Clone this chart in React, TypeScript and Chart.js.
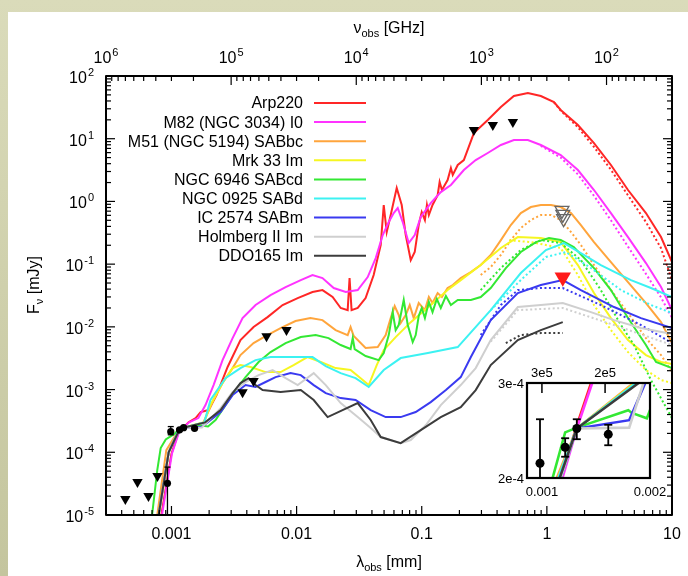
import React, { useEffect, useRef } from 'react';
import { Chart, registerables } from 'chart.js';

Chart.register(...registerables);

// ---------- constants ----------
const C_MM_GHZ = 299.792458; // lambda[mm] = C / nu[GHz]
const LAM_MIN = C_MM_GHZ / 1e6;
const LAM_MAX = 10;
const F_MIN = 1e-5;
const F_MAX = 100;
const INSET_LAM_MIN = 0.000908;
const INSET_LAM_MAX = 0.002;
const INSET_F_MIN = 2e-4;
const INSET_F_MAX = 3e-4;

const FONT = '"Liberation Sans", Arial, Helvetica, sans-serif';

// ---------- data ----------
const SERIES_NAMES = [
  'Arp220',
  'M82 (NGC 3034) I0',
  'M51 (NGC 5194) SABbc',
  'Mrk 33 Im',
  'NGC 6946 SABcd',
  'NGC 0925 SABd',
  'IC 2574 SABm',
  'Holmberg II Im',
  'DDO165 Im',
];
const SERIES_COLORS = ['#ff2626', '#ff33ff', '#ffa53c', '#f6f621', '#33e833', '#3cf2f2', '#3a3af0', '#cfcfcf', '#3c3c3c'];

const ARP220_LAM = [0.00083, 0.001, 0.00113, 0.00125, 0.00137, 0.00156, 0.00171, 0.00198, 0.00229, 0.00281, 0.00356, 0.00453, 0.00586, 0.00773, 0.0102, 0.0134, 0.0161, 0.0194, 0.0225, 0.0256, 0.0265, 0.0275, 0.0308, 0.0356, 0.0413, 0.047, 0.0497, 0.0525, 0.0565, 0.0631, 0.0692, 0.0745, 0.0817, 0.0879, 0.0946, 0.1, 0.106, 0.11, 0.114, 0.122, 0.134, 0.139, 0.145, 0.161, 0.171, 0.177, 0.194, 0.217, 0.261, 0.337, 0.429, 0.545, 0.705, 0.895, 1.14, 1.29, 1.77, 2.38, 3.25, 4.45, 6.19, 8.17, 10];
const ARP220_F = [1e-5, 9.5e-5, 2.0e-4, 2.5e-4, 3.0e-4, 3.51e-4, 4.38e-4, 4.71e-4, 8.17e-4, 2.29e-3, 6.15e-3, 9.93e-3, 0.0143, 0.0223, 0.0288, 0.0359, 0.0386, 0.0299, 0.02, 0.0185, 0.06, 0.0185, 0.02, 0.0288, 0.067, 0.202, 0.877, 0.325, 0.607, 1.64, 0.877, 0.291, 0.116, 0.156, 0.42, 0.678, 0.505, 0.877, 0.607, 0.877, 1.26, 2.04, 1.52, 2.19, 3.41, 2.64, 3.81, 4.57, 12.3, 19.9, 32.0, 48.0, 53.6, 48.0, 38.5, 28.7, 16.5, 8.53, 3.81, 1.52, 0.653, 0.27, 0.108];
const ARP220_DOT_LAM = [1.14, 1.29, 1.77, 2.38, 3.25, 4.45, 6.19, 8.17, 10];
const ARP220_DOT_F = [38.0, 28.0, 15.2, 7.4, 3.2, 1.25, 0.47, 0.18, 0.0557];

const M82_LAM = [0.00084, 0.00101, 0.00114, 0.00125, 0.00138, 0.00164, 0.00187, 0.00217, 0.00256, 0.00308, 0.0037, 0.0047, 0.00619, 0.00817, 0.0108, 0.0134, 0.0161, 0.0198, 0.0247, 0.0308, 0.037, 0.0429, 0.0488, 0.0545, 0.0597, 0.0643, 0.0705, 0.0787, 0.0879, 0.0982, 0.118, 0.142, 0.171, 0.217, 0.27, 0.337, 0.429, 0.545, 0.705, 0.895, 1.29, 1.77, 2.38, 3.25, 4.45, 6.19, 8.17, 10];
const M82_F = [1e-5, 9.6e-5, 2.0e-4, 2.47e-4, 3.0e-4, 3.51e-4, 5.66e-4, 1.18e-3, 2.95e-3, 6.62e-3, 0.0138, 0.0223, 0.0321, 0.0431, 0.0557, 0.067, 0.06, 0.0416, 0.0359, 0.0386, 0.0622, 0.125, 0.291, 0.469, 0.653, 0.785, 0.469, 0.217, 0.291, 0.564, 0.942, 1.41, 1.83, 3.17, 4.57, 5.92, 7.94, 9.53, 9.53, 7.94, 5.5, 3.17, 1.52, 0.653, 0.27, 0.104, 0.0431, 0.0185];
const M82_DOT_LAM = [0.895, 1.29, 1.77, 2.38, 3.25, 4.45, 6.19, 8.17, 10];
const M82_DOT_F = [7.7, 5.0, 2.7, 1.23, 0.5, 0.19, 0.07, 0.0295, 0.0138];

const M51_LAM = [0.00077, 0.00091, 0.0011, 0.00125, 0.0018, 0.00217, 0.00256, 0.00308, 0.00356, 0.00453, 0.00565, 0.00745, 0.0098, 0.0129, 0.0161, 0.0205, 0.0256, 0.027, 0.0286, 0.0356, 0.0445, 0.0515, 0.0565, 0.0608, 0.0655, 0.0679, 0.0745, 0.0802, 0.0863, 0.0946, 0.106, 0.114, 0.122, 0.134, 0.145, 0.161, 0.177, 0.205, 0.247, 0.296, 0.356, 0.429, 0.515, 0.619, 0.745, 0.895, 1.08, 1.29, 1.56, 1.87, 2.38, 3.25, 4.45, 6.19, 8.17, 10];
const M51_F = [1e-5, 1.08e-4, 2.0e-4, 2.47e-4, 3.0e-4, 6.81e-4, 1.27e-3, 2.2e-3, 3.55e-3, 5.52e-3, 7.13e-3, 9.57e-3, 0.0124, 0.0138, 0.0128, 0.00889, 0.0074, 0.00993, 0.00713, 0.00459, 0.00476, 0.0074, 0.0138, 0.0215, 0.0154, 0.0115, 0.0154, 0.0223, 0.0138, 0.024, 0.0185, 0.0299, 0.024, 0.0346, 0.0299, 0.0416, 0.0464, 0.06, 0.0748, 0.0968, 0.14, 0.242, 0.42, 0.653, 0.814, 0.877, 0.877, 0.814, 0.653, 0.42, 0.225, 0.108, 0.0518, 0.024, 0.0119, 0.00552];
const M51_DOT_LAM = [0.296, 0.356, 0.429, 0.515, 0.619, 0.745, 0.895, 1.08, 1.29, 1.56, 1.87, 2.38, 3.25, 4.45, 6.19, 8.17, 10];
const M51_DOT_F = [0.067, 0.0899, 0.14, 0.242, 0.377, 0.505, 0.607, 0.607, 0.505, 0.325, 0.202, 0.0968, 0.0386, 0.0166, 0.00662, 0.00355, 0.0019];

const MRK33_LAM = [0.00079, 0.00095, 0.00111, 0.00125, 0.00182, 0.00205, 0.00256, 0.00308, 0.00356, 0.00429, 0.00565, 0.00745, 0.00946, 0.0122, 0.0156, 0.0205, 0.027, 0.0325, 0.0377, 0.0437, 0.0497, 0.0619, 0.0817, 0.118, 0.161, 0.205, 0.296, 0.429, 0.586, 0.895, 1.29, 1.77, 2.38, 3.25, 4.45, 6.19, 8.17, 10];
const MRK33_F = [1e-5, 1.0e-4, 2.0e-4, 2.47e-4, 3.0e-4, 5.66e-4, 1.27e-3, 2.2e-3, 2.46e-3, 2.29e-3, 1.9e-3, 1.9e-3, 2.46e-3, 3.3e-3, 2.75e-3, 2.2e-3, 2.05e-3, 1.52e-3, 1.18e-3, 2.46e-3, 4.27e-3, 6.87e-3, 0.0119, 0.0223, 0.0386, 0.0557, 0.0968, 0.181, 0.27, 0.261, 0.225, 0.0968, 0.0346, 0.0138, 0.00615, 0.00355, 0.00275, 0.00256];
const MRK33_DOT_LAM = [0.5, 0.745, 1.29, 1.77, 2.38, 3.25, 4.45, 6.19, 8.17, 10];
const MRK33_DOT_F = [0.24, 0.225, 0.181, 0.067, 0.0223, 0.00889, 0.00396, 0.00205, 0.00142, 0.00127];

const N6946_LAM = [0.0007, 0.00077, 0.00082, 0.0009, 0.00107, 0.00116, 0.00125, 0.00174, 0.00178, 0.00196, 0.00225, 0.0027, 0.00325, 0.00391, 0.00497, 0.00619, 0.00817, 0.0108, 0.0142, 0.018, 0.0225, 0.027, 0.0281, 0.0291, 0.0356, 0.0453, 0.0497, 0.0545, 0.0586, 0.0619, 0.0655, 0.0718, 0.0773, 0.0847, 0.0895, 0.0946, 0.1, 0.106, 0.114, 0.122, 0.132, 0.142, 0.156, 0.171, 0.194, 0.247, 0.296, 0.356, 0.47, 0.619, 0.817, 1.04, 1.29, 1.64, 2.38, 3.25, 4.45, 6.19, 7.45, 10];
const N6946_F = [1e-5, 5.2e-5, 1.17e-4, 1.6e-4, 2.0e-4, 2.43e-4, 2.48e-4, 2.67e-4, 2.64e-4, 2.58e-4, 3.27e-4, 5.66e-4, 9.82e-4, 1.58e-3, 2.75e-3, 3.96e-3, 5.52e-3, 6.87e-3, 7.4e-3, 6.62e-3, 5.13e-3, 4.43e-3, 6.62e-3, 4.43e-3, 3.42e-3, 2.95e-3, 3.82e-3, 7.4e-3, 0.0172, 8.89e-3, 0.0107, 0.0268, 0.0107, 5.72e-3, 7.4e-3, 0.0149, 0.02, 0.0138, 0.0249, 0.0172, 0.0278, 0.02, 0.031, 0.0223, 0.0268, 0.0268, 0.0299, 0.0416, 0.0867, 0.156, 0.225, 0.261, 0.242, 0.187, 0.0867, 0.0386, 0.0138, 0.00513, 0.00275, 0.0022];
const N6946_DOT_LAM = [0.296, 0.429, 0.619, 0.895, 1.29, 1.87, 2.7, 3.91, 4.97, 6.79, 10];
const N6946_DOT_F = [0.0386, 0.0867, 0.168, 0.242, 0.217, 0.116, 0.0386, 0.0107, 0.00513, 0.00142, 0.00035];

const N0925_LAM = [0.00079, 0.00095, 0.00111, 0.00125, 0.00183, 0.00205, 0.0027, 0.00356, 0.0047, 0.00619, 0.0108, 0.0134, 0.0171, 0.0225, 0.0296, 0.0377, 0.0497, 0.0679, 0.112, 0.194, 0.356, 0.619, 0.982, 1.37, 1.87, 2.7, 4.7, 6.79, 10];
const N0925_F = [1e-5, 1.0e-4, 2.0e-4, 2.47e-4, 3.0e-4, 6.81e-4, 1.52e-3, 2.2e-3, 2.95e-3, 3.3e-3, 3.3e-3, 3.3e-3, 2.37e-3, 1.83e-3, 1.52e-3, 1.1e-3, 2.05e-3, 3.18e-3, 3.82e-3, 4.76e-3, 0.0185, 0.0721, 0.168, 0.217, 0.15, 0.0968, 0.0557, 0.0416, 0.0299];
const N0925_DOT_LAM = [0.356, 0.619, 0.982, 1.42, 2.25, 3.91, 6.79, 10];
const N0925_DOT_F = [0.0185, 0.0557, 0.13, 0.156, 0.0867, 0.0386, 0.0223, 0.0166];

const IC2574_LAM = [0.00079, 0.00095, 0.0011, 0.00125, 0.00175, 0.00194, 0.00247, 0.00308, 0.00391, 0.0047, 0.00565, 0.00679, 0.00895, 0.0108, 0.0137, 0.0171, 0.0225, 0.0296, 0.0391, 0.0515, 0.0679, 0.0895, 0.118, 0.156, 0.205, 0.247, 0.356, 0.586, 0.895, 1.34, 1.87, 3.44, 5.65, 10];
const IC2574_F = [1e-5, 1.0e-4, 1.9e-4, 2.47e-4, 2.56e-4, 3.0e-4, 4.38e-4, 8.17e-4, 1.18e-3, 1.1e-3, 1.32e-3, 1.58e-3, 1.83e-3, 1.7e-3, 1.18e-3, 8.79e-4, 7.31e-4, 6.81e-4, 4.71e-4, 3.64e-4, 3.64e-4, 4.38e-4, 6.32e-4, 9.82e-4, 1.58e-3, 3.3e-3, 0.0128, 0.0346, 0.0464, 0.0557, 0.0386, 0.0207, 0.0138, 0.00957];
const IC2574_DOT_LAM = [0.296, 0.429, 0.586, 0.895, 1.34, 2.7, 5.65, 10];
const IC2574_DOT_F = [0.0074, 0.0223, 0.0386, 0.0416, 0.0416, 0.0223, 0.0107, 0.00552];

const HOII_LAM = [0.00079, 0.00095, 0.0011, 0.00125, 0.00175, 0.00247, 0.00308, 0.00391, 0.00497, 0.00643, 0.00817, 0.0102, 0.0137, 0.0171, 0.0225, 0.0308, 0.0391, 0.047, 0.0679, 0.0817, 0.108, 0.142, 0.205, 0.27, 0.356, 0.586, 0.895, 1.34, 2.25, 3.44, 5.65, 10];
const HOII_F = [1e-5, 1.0e-4, 1.9e-4, 2.47e-4, 2.48e-4, 5.07e-4, 9.12e-4, 1.32e-3, 1.7e-3, 2.05e-3, 1.52e-3, 1.18e-3, 1.83e-3, 1.18e-3, 6.1e-4, 3.64e-4, 2.43e-4, 1.75e-4, 1.4e-4, 1.57e-4, 2.72e-4, 5.66e-4, 1.18e-3, 2.2e-3, 6.15e-3, 0.0207, 0.0223, 0.024, 0.0172, 0.0128, 0.00957, 0.0077];
const HOII_DOT_LAM = [0.356, 0.586, 1.34, 3.44, 10];
const HOII_DOT_F = [0.0058, 0.0185, 0.02, 0.0107, 0.00513];

const DDO165_LAM = [0.00079, 0.00095, 0.00112, 0.00125, 0.00186, 0.00247, 0.00308, 0.00356, 0.00413, 0.0047, 0.00535, 0.00745, 0.0108, 0.0137, 0.0177, 0.0233, 0.0308, 0.0391, 0.047, 0.0679, 0.0982, 0.142, 0.205, 0.27, 0.356, 0.586, 0.895, 1.34];
const DDO165_F = [1e-5, 1.0e-4, 2.0e-4, 2.47e-4, 3.0e-4, 4.71e-4, 8.79e-4, 1.27e-3, 1.52e-3, 1.18e-3, 9.82e-4, 9.12e-4, 9.82e-4, 6.81e-4, 3.64e-4, 4.71e-4, 6.1e-4, 3.27e-4, 1.75e-4, 1.4e-4, 2.26e-4, 3.64e-4, 5.26e-4, 9.82e-4, 2.46e-3, 6.15e-3, 8.89e-3, 0.0119];
const DDO165_DOT_LAM = [0.47, 0.619, 0.895, 1.34];
const DDO165_DOT_F = [0.00552, 0.0074, 0.00796, 0.00796];

// observations (detections with error bars)
const OBS_LAM = [0.000929, 0.000987, 0.00116, 0.00125, 0.00153];
const OBS_F = [3.2e-5, 2.13e-4, 2.28e-4, 2.47e-4, 2.41e-4];
const OBS_LO = [1e-6, 1.9e-4, 2.19e-4, 2.36e-4, 2.3e-4];
const OBS_HI = [5.8e-5, 2.57e-4, 2.37e-4, 2.57e-4, 2.51e-4];

// upper limits
const LIMIT_LAM = [4.28e-4, 5.35e-4, 6.55e-4, 7.73e-4, 0.0037, 0.00453, 0.00575, 0.0083, 0.261, 0.37, 0.535];
const LIMIT_F = [1.8e-5, 3.35e-5, 2.0e-5, 4.17e-5, 9.1e-4, 1.37e-3, 7.1e-3, 8.9e-3, 13.8, 16.6, 18.5];
const RED_LIMIT_LAM = [1.34];
const RED_LIMIT_F = [0.062];
const OPEN_LIMIT_LAM = [1.32, 1.34, 1.36];
const OPEN_LIMIT_F = [0.72, 0.62, 0.53];

// tick labels
const X_TICK_VALUES = [0.001, 0.01, 0.1, 1, 10];
const X_TICK_LABELS = ['0.001', '0.01', '0.1', '1', '10'];
const Y_EXPONENTS = [-5, -4, -3, -2, -1, 0, 1, 2];
const NU_EXPONENTS = [2, 3, 4, 5, 6];
const INSET_X_TICKS = [0.001, 0.002];
const INSET_X_LABELS = ['0.001', '0.002'];
const INSET_Y_TICKS = [2e-4, 3e-4];
const INSET_Y_LABELS = ['2e-4', '3e-4'];
const INSET_NU_TICKS = [3e5, 2e5];
const INSET_NU_LABELS = ['3e5', '2e5'];

const SERIES = [
  { lam: ARP220_LAM, f: ARP220_F, dlam: ARP220_DOT_LAM, df: ARP220_DOT_F },
  { lam: M82_LAM, f: M82_F, dlam: M82_DOT_LAM, df: M82_DOT_F },
  { lam: M51_LAM, f: M51_F, dlam: M51_DOT_LAM, df: M51_DOT_F },
  { lam: MRK33_LAM, f: MRK33_F, dlam: MRK33_DOT_LAM, df: MRK33_DOT_F },
  { lam: N6946_LAM, f: N6946_F, dlam: N6946_DOT_LAM, df: N6946_DOT_F },
  { lam: N0925_LAM, f: N0925_F, dlam: N0925_DOT_LAM, df: N0925_DOT_F },
  { lam: IC2574_LAM, f: IC2574_F, dlam: IC2574_DOT_LAM, df: IC2574_DOT_F },
  { lam: HOII_LAM, f: HOII_F, dlam: HOII_DOT_LAM, df: HOII_DOT_F },
  { lam: DDO165_LAM, f: DDO165_F, dlam: DDO165_DOT_LAM, df: DDO165_DOT_F },
].map((s, i) => ({ ...s, name: SERIES_NAMES[i], color: SERIES_COLORS[i] }));

// ---------- helpers ----------
const toXY = (xs: number[], ys: number[]) => xs.map((x, i) => ({ x, y: ys[i] }));

function logTickList(min: number, max: number) {
  const out: { v: number; major: boolean }[] = [];
  const e0 = Math.floor(Math.log10(min));
  const e1 = Math.ceil(Math.log10(max));
  for (let e = e0; e <= e1; e++) {
    for (let m = 1; m <= 9; m++) {
      const v = m * Math.pow(10, e);
      if (v >= min * 0.9999 && v <= max * 1.0001) out.push({ v, major: m === 1 });
    }
  }
  return out;
}

function line(ctx: CanvasRenderingContext2D, x1: number, y1: number, x2: number, y2: number) {
  ctx.beginPath();
  ctx.moveTo(x1, y1);
  ctx.lineTo(x2, y2);
  ctx.stroke();
}

function drawPow(ctx: CanvasRenderingContext2D, exp: string, x: number, y: number, align: 'right' | 'center') {
  ctx.font = `16px ${FONT}`;
  const w1 = ctx.measureText('10').width;
  ctx.font = `11px ${FONT}`;
  const w2 = ctx.measureText(exp).width;
  const total = w1 + w2 + 1;
  const x0 = align === 'right' ? x - total : x - total / 2;
  ctx.textAlign = 'left';
  ctx.textBaseline = 'alphabetic';
  ctx.font = `16px ${FONT}`;
  ctx.fillText('10', x0, y + 6);
  ctx.font = `11px ${FONT}`;
  ctx.fillText(exp, x0 + w1 + 1, y - 1);
}

function drawParts(ctx: CanvasRenderingContext2D, parts: [string, number, number][], cx: number, baseline: number) {
  let total = 0;
  const widths = parts.map(([t, size]) => {
    ctx.font = `${size}px ${FONT}`;
    const w = ctx.measureText(t).width;
    total += w;
    return w;
  });
  let x = cx - total / 2;
  ctx.textAlign = 'left';
  ctx.textBaseline = 'alphabetic';
  parts.forEach(([t, size, dy], i) => {
    ctx.font = `${size}px ${FONT}`;
    ctx.fillText(t, x, baseline + dy);
    x += widths[i];
  });
}

function drawErrorBars(chart: any, capHalf: number, lw: number) {
  const ctx = chart.ctx as CanvasRenderingContext2D;
  const a = chart.chartArea;
  const xs = chart.scales.x;
  const ys = chart.scales.y;
  ctx.save();
  ctx.beginPath();
  ctx.rect(a.left, a.top, a.right - a.left, a.bottom - a.top);
  ctx.clip();
  ctx.strokeStyle = '#000';
  ctx.lineWidth = lw;
  OBS_LAM.forEach((l, i) => {
    const x = xs.getPixelForValue(l);
    const y1 = ys.getPixelForValue(OBS_HI[i]);
    const y2 = ys.getPixelForValue(OBS_LO[i]);
    line(ctx, x, y1, x, y2);
    line(ctx, x - capHalf, y1, x + capHalf, y1);
    line(ctx, x - capHalf, y2, x + capHalf, y2);
  });
  ctx.restore();
}

function pointDatasets(inset: boolean) {
  const base = { showLine: false, xAxisID: 'x', yAxisID: 'y', borderWidth: 0 };
  const list: any[] = [
    {
      ...base,
      label: 'detections',
      data: toXY(OBS_LAM, OBS_F),
      pointStyle: 'circle',
      pointRadius: inset ? 4.5 : 3.6,
      pointBackgroundColor: '#000',
      pointBorderColor: '#000',
      pointBorderWidth: 0,
      order: 1,
    },
  ];
  if (!inset) {
    list.push(
      {
        ...base,
        label: 'upper limits',
        data: toXY(LIMIT_LAM, LIMIT_F),
        pointStyle: 'triangle',
        pointRotation: 180,
        pointRadius: 6,
        pointBackgroundColor: '#000',
        pointBorderColor: '#000',
        pointBorderWidth: 0,
        order: 2,
      },
      {
        ...base,
        label: 'upper limit (red)',
        data: toXY(RED_LIMIT_LAM, RED_LIMIT_F),
        pointStyle: 'triangle',
        pointRotation: 180,
        pointRadius: 9.5,
        pointBackgroundColor: '#ff1a1a',
        pointBorderColor: '#ff1a1a',
        pointBorderWidth: 0,
        order: 2,
      },
      {
        ...base,
        label: 'upper limits (open)',
        data: toXY(OPEN_LIMIT_LAM, OPEN_LIMIT_F),
        pointStyle: 'triangle',
        pointRotation: 180,
        pointRadius: 8,
        pointBackgroundColor: 'rgba(255,255,255,0)',
        pointBorderColor: '#666',
        pointBorderWidth: 1.3,
        order: 2,
      }
    );
  }
  return list;
}

function curveDatasets(inset: boolean) {
  const list: any[] = [];
  SERIES.forEach((s, i) => {
    list.push({
      label: s.name,
      data: toXY(s.lam, s.f),
      borderColor: s.color,
      backgroundColor: s.color,
      borderWidth: inset ? 2.6 : 2,
      pointRadius: 0,
      fill: false,
      tension: 0,
      xAxisID: 'x',
      yAxisID: 'y',
      order: 100 - 2 * i,
    });
    if (!inset) {
      list.push({
        label: s.name + ' (alt)',
        data: toXY(s.dlam, s.df),
        borderColor: s.color,
        backgroundColor: s.color,
        borderWidth: 2,
        borderDash: [2, 2.5],
        pointRadius: 0,
        fill: false,
        tension: 0,
        xAxisID: 'x',
        yAxisID: 'y',
        order: 99 - 2 * i,
      });
    }
  });
  return list;
}

const hiddenScale = {
  grid: { display: false },
  border: { display: false },
  ticks: { display: false },
  title: { display: false },
};

// ---------- main plugin ----------
const mainDecor = {
  id: 'mainDecor',
  beforeDraw(chart: any) {
    const ctx = chart.ctx as CanvasRenderingContext2D;
    const W = chart.width;
    const H = chart.height;
    ctx.save();
    const g = ctx.createLinearGradient(0, 0, 0, H);
    g.addColorStop(0, '#dadbba');
    g.addColorStop(1, '#c4c59e');
    ctx.fillStyle = g;
    ctx.fillRect(0, 0, W, H);
    ctx.fillStyle = '#ffffff';
    ctx.fillRect(8, 12, W - 8, H - 12);
    ctx.restore();
  },
  afterDatasetsDraw(chart: any) {
    drawErrorBars(chart, 3, 1.3);
  },
  afterDraw(chart: any) {
    const ctx = chart.ctx as CanvasRenderingContext2D;
    const a = chart.chartArea;
    const xs = chart.scales.x;
    const x2 = chart.scales.x2;
    const ys = chart.scales.y;
    ctx.save();
    ctx.strokeStyle = '#000';
    ctx.fillStyle = '#000';
    ctx.lineWidth = 1.2;
    // inward ticks
    for (const t of logTickList(F_MIN, F_MAX)) {
      const y = ys.getPixelForValue(t.v);
      const len = t.major ? 9 : 5;
      line(ctx, a.left, y, a.left + len, y);
      line(ctx, a.right, y, a.right - len, y);
    }
    for (const t of logTickList(LAM_MIN, LAM_MAX)) {
      const x = xs.getPixelForValue(t.v);
      const len = t.major ? 9 : 5;
      line(ctx, x, a.bottom, x, a.bottom - len);
    }
    for (const t of logTickList(C_MM_GHZ / LAM_MAX, C_MM_GHZ / LAM_MIN)) {
      const x = x2.getPixelForValue(t.v);
      const len = t.major ? 9 : 5;
      line(ctx, x, a.top, x, a.top + len);
    }
    // frame
    ctx.lineWidth = 2;
    ctx.lineJoin = 'round';
    ctx.strokeRect(a.left, a.top, a.right - a.left, a.bottom - a.top);

    // tick labels
    Y_EXPONENTS.forEach((e) => drawPow(ctx, String(e), 94, ys.getPixelForValue(Math.pow(10, e)) + 1, 'right'));
    NU_EXPONENTS.forEach((e) => drawPow(ctx, String(e), x2.getPixelForValue(Math.pow(10, e)), 57, 'center'));
    ctx.font = `16px ${FONT}`;
    ctx.textAlign = 'center';
    ctx.textBaseline = 'alphabetic';
    X_TICK_VALUES.forEach((v, i) => ctx.fillText(X_TICK_LABELS[i], xs.getPixelForValue(v), 539));

    // axis titles
    const cx = (a.left + a.right) / 2;
    drawParts(ctx, [['\u03bd', 16, 0], ['obs', 11, 4], [' [GHz]', 16, 0]], cx, 33);
    drawParts(ctx, [['\u03bb', 16, 0], ['obs', 11, 4], [' [mm]', 16, 0]], cx, 567);
    ctx.save();
    ctx.translate(39, 285);
    ctx.rotate(-Math.PI / 2);
    drawParts(ctx, [['F', 16, 0], ['\u03bd', 11, 4], [' [mJy]', 16, 0]], 0, 0);
    ctx.restore();

    // legend (gnuplot style: right-aligned text, line sample to the right)
    SERIES.forEach((s, i) => {
      const y = 103 + i * 19.1;
      ctx.font = `16px ${FONT}`;
      ctx.textAlign = 'right';
      ctx.textBaseline = 'middle';
      ctx.fillStyle = '#000';
      ctx.fillText(s.name, 303, y + 1);
      ctx.strokeStyle = s.color;
      ctx.lineWidth = 2;
      line(ctx, 314, y, 366, y);
    });
    ctx.restore();
  },
};

// ---------- inset plugin ----------
const insetDecor = {
  id: 'insetDecor',
  beforeDatasetsDraw(chart: any) {
    const ctx = chart.ctx as CanvasRenderingContext2D;
    const a = chart.chartArea;
    ctx.save();
    ctx.fillStyle = '#fff';
    ctx.fillRect(a.left, a.top, a.right - a.left, a.bottom - a.top);
    ctx.restore();
  },
  afterDatasetsDraw(chart: any) {
    drawErrorBars(chart, 4, 1.8);
  },
  afterDraw(chart: any) {
    const ctx = chart.ctx as CanvasRenderingContext2D;
    const a = chart.chartArea;
    const xs = chart.scales.x;
    const x2 = chart.scales.x2;
    const ys = chart.scales.y;
    ctx.save();
    ctx.strokeStyle = '#000';
    ctx.fillStyle = '#000';
    ctx.lineWidth = 1.5;
    INSET_NU_TICKS.forEach((v) => {
      const x = x2.getPixelForValue(v);
      line(ctx, x, a.top, x, a.top + 10);
    });
    ctx.lineWidth = 2.2;
    ctx.lineJoin = 'miter';
    ctx.strokeRect(a.left, a.top, a.right - a.left, a.bottom - a.top);
    ctx.font = `13px ${FONT}`;
    ctx.textBaseline = 'middle';
    ctx.textAlign = 'center';
    INSET_NU_TICKS.forEach((v, i) => ctx.fillText(INSET_NU_LABELS[i], x2.getPixelForValue(v), a.top - 10));
    INSET_X_TICKS.forEach((v, i) => ctx.fillText(INSET_X_LABELS[i], xs.getPixelForValue(v), a.bottom + 14));
    ctx.textAlign = 'right';
    INSET_Y_TICKS.forEach((v, i) => ctx.fillText(INSET_Y_LABELS[i], a.left - 3, ys.getPixelForValue(v) + 1));
    ctx.restore();
  },
};

// ---------- components ----------
function MainChart() {
  const ref = useRef<HTMLCanvasElement>(null);
  useEffect(() => {
    const chart = new Chart(ref.current as HTMLCanvasElement, {
      type: 'line',
      data: { datasets: [...pointDatasets(false), ...curveDatasets(false)] },
      options: {
        responsive: false,
        maintainAspectRatio: false,
        animation: false,
        devicePixelRatio: 1,
        events: [],
        layout: { padding: { left: 0, right: 16, top: 0, bottom: 0 } },
        plugins: { legend: { display: false }, tooltip: { enabled: false } },
        scales: {
          x: {
            type: 'logarithmic',
            position: 'bottom',
            min: LAM_MIN,
            max: LAM_MAX,
            ...hiddenScale,
            afterFit: (s: any) => {
              s.height = 61;
            },
          },
          x2: {
            type: 'logarithmic',
            axis: 'x',
            position: 'top',
            reverse: true,
            min: C_MM_GHZ / LAM_MAX,
            max: C_MM_GHZ / LAM_MIN,
            ...hiddenScale,
            afterFit: (s: any) => {
              s.height = 76;
            },
          },
          y: {
            type: 'logarithmic',
            position: 'left',
            min: F_MIN,
            max: F_MAX,
            ...hiddenScale,
            afterFit: (s: any) => {
              s.width = 106;
            },
          },
        },
      } as any,
      plugins: [mainDecor],
    });
    return () => chart.destroy();
  }, []);
  return (
    <canvas
      ref={ref}
      width={688}
      height={576}
      style={{ position: 'absolute', left: 0, top: 0, width: 688, height: 576 }}
    />
  );
}

function InsetChart() {
  const ref = useRef<HTMLCanvasElement>(null);
  useEffect(() => {
    const chart = new Chart(ref.current as HTMLCanvasElement, {
      type: 'line',
      data: { datasets: [...pointDatasets(true), ...curveDatasets(true)] },
      options: {
        responsive: false,
        maintainAspectRatio: false,
        animation: false,
        devicePixelRatio: 1,
        events: [],
        layout: { padding: { left: 0, right: 30, top: 0, bottom: 0 } },
        plugins: { legend: { display: false }, tooltip: { enabled: false } },
        scales: {
          x: {
            type: 'logarithmic',
            position: 'bottom',
            min: INSET_LAM_MIN,
            max: INSET_LAM_MAX,
            ...hiddenScale,
            afterFit: (s: any) => {
              s.height = 22;
            },
          },
          x2: {
            type: 'logarithmic',
            axis: 'x',
            position: 'top',
            reverse: true,
            min: C_MM_GHZ / INSET_LAM_MAX,
            max: C_MM_GHZ / INSET_LAM_MIN,
            ...hiddenScale,
            afterFit: (s: any) => {
              s.height = 23;
            },
          },
          y: {
            type: 'logarithmic',
            position: 'left',
            min: INSET_F_MIN,
            max: INSET_F_MAX,
            ...hiddenScale,
            afterFit: (s: any) => {
              s.width = 32;
            },
          },
        },
      } as any,
      plugins: [insetDecor],
    });
    return () => chart.destroy();
  }, []);
  return (
    <canvas
      ref={ref}
      width={185}
      height={140}
      style={{ position: 'absolute', left: 495, top: 360, width: 185, height: 140 }}
    />
  );
}

export default function App() {
  return (
    <div style={{ position: 'absolute', left: 0, top: 0, width: 688, height: 576, overflow: 'hidden' }}>
      <MainChart />
      <InsetChart />
    </div>
  );
}
